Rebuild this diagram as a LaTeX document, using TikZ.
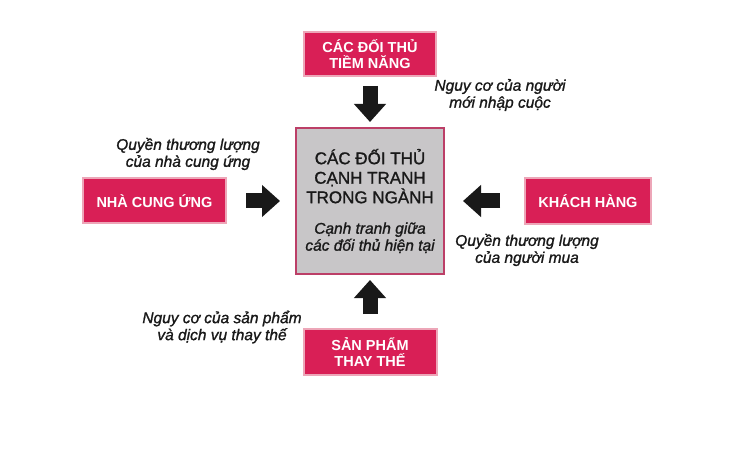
\documentclass[tikz,border=0pt]{standalone}
\usepackage{fontspec}
\setmainfont{Liberation Sans}
\newfontfamily\medfont[FakeBold=1.2]{Liberation Sans}
\usepackage{xcolor}
\usepackage{tikz}
\usetikzlibrary{positioning, arrows.meta}

\definecolor{boxred}{HTML}{D91F56}
\definecolor{boxrim}{HTML}{EDA6B8}
\definecolor{boxgray}{HTML}{C8C6C8}
\definecolor{grayrim}{HTML}{BC3F67}

\begin{document}
\begin{tikzpicture}[
    x=1pt, y=1pt,
    redbox/.style={rectangle, draw=boxrim, line width=2pt, fill=boxred, text=white,
        align=center, font=\fontsize{14.5}{16}\selectfont\bfseries},
    graybox/.style={rectangle, draw=grayrim, line width=2pt, fill=boxgray, text=black!90,
        align=center, minimum width=148pt, minimum height=146pt,
        font=\medfont\fontsize{17}{19.5}\selectfont},
    blockarrow/.style={line width=15pt, black!90, -{Triangle[length=18pt, width=31pt]}},
    note/.style={align=center, text=black!90, font=\medfont\fontsize{15.5}{17}\selectfont\itshape},
]
\useasboundingbox[fill=white] (0,0) rectangle (743,450);

\node[graybox](nganh) at (370,249){CÁC ĐỐI THỦ\\CẠNH TRANH\\TRONG NGÀNH\\[11pt]
    {\fontsize{15.5}{17}\selectfont\itshape Cạnh tranh giữa}\\[-2.5pt]
    {\fontsize{15.5}{17}\selectfont\itshape các đối thủ hiện tại}};
\node[redbox, minimum width=132pt, minimum height=44pt](tiemnang)[above = 50pt of nganh]{CÁC ĐỐI THỦ\\TIỀM NĂNG};
\node[redbox, minimum width=143pt, minimum height=45pt](nhacc)[left = 68pt of nganh]{NHÀ CUNG ỨNG};
\node[redbox, minimum width=126pt, minimum height=46pt](khach)[right = 79pt of nganh]{KHÁCH HÀNG};
\node[redbox, minimum width=133pt, minimum height=46pt](thaythe)[below = 53pt of nganh]{SẢN PHẨM\\THAY THẾ};

\draw[blockarrow, shorten <=9pt, shorten >=5pt] (tiemnang) -- (nganh);
\draw[blockarrow, shorten <=19pt, shorten >=15pt] (nhacc) -- (nganh);
\draw[blockarrow, shorten <=24pt, shorten >=18pt] (khach) -- (nganh);
\draw[blockarrow, shorten <=14pt, shorten >=5pt] (thaythe) -- (nganh);

\node[note](nguycomoi) at (500,355){Nguy cơ của người\\mới nhập cuộc};
\node[note](quyencc) at (188,296){Quyền thương lượng\\của nhà cung ứng};
\node[note](quyenmua) at (527,200){Quyền thương lượng\\của người mua};
\node[note](nguycotay) at (222,123){Nguy cơ của sản phẩm\\và dịch vụ thay thế};
\end{tikzpicture}
\end{document}
